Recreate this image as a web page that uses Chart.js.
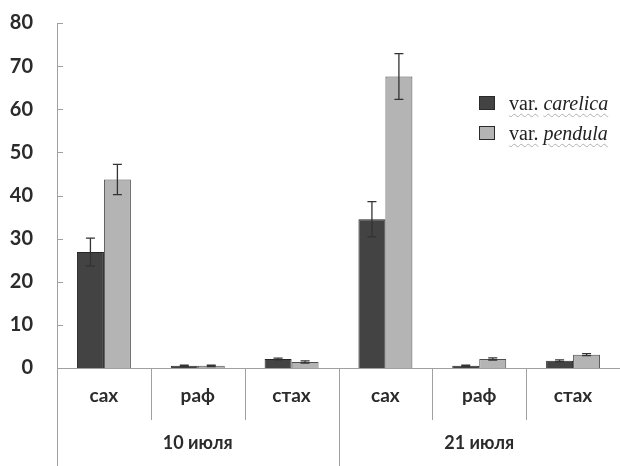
<!DOCTYPE html>
<html lang="ru">
<head>
  <meta charset="UTF-8">
  <title>Сахара по датам</title>
  <script src="https://cdn.jsdelivr.net/npm/chart.js"></script>
  <style>
    body {
      margin: 0;
      padding: 0;
      background: #ffffff;
    }
    .wrap {
      position: relative;
      width: 620px;
      height: 466px;
    }
    .legend {
      position: absolute;
      left: 479px;
      top: 88px;
      font-family: 'Liberation Serif', 'DejaVu Serif', serif;
      font-size: 20px;
      color: #222;
    }
    .legend-row {
      display: flex;
      align-items: center;
      height: 30px;
    }
    .legend-box {
      width: 14px;
      height: 12px;
      border: 1px solid #2a2a2a;
      margin-right: 14px;
    }
    .legend-row span.w {
      text-decoration: underline wavy #b0b0b0 1px;
      text-underline-offset: 3px;
    }
  </style>
</head>
<body>
  <div class="wrap">
    <canvas id="chart" width="620" height="466"></canvas>
    <div class="legend" id="legend"></div>
  </div>
  <script>
    // подписи осей
    const categories = ["сах", "раф", "стах", "сах", "раф", "стах"];
    const dates = ["10 июля", "21 июля"];
    const yTicks = [0, 10, 20, 30, 40, 50, 60, 70, 80];

    // значения и ошибки
    const carelica = [26.9, 0.5, 2.1, 34.5, 0.5, 1.7];
    const carelicaErr = [3.2, 0.15, 0.2, 4.1, 0.15, 0.2];
    const pendula = [43.7, 0.5, 1.4, 67.6, 2.1, 3.1];
    const pendulaErr = [3.5, 0.15, 0.25, 5.3, 0.25, 0.25];

    const seriesNames = [["var. ", "carelica"], ["var. ", "pendula"]];
    const fills = ["#434343", "#b4b4b4"];
    const borders = ["#262626", "#4d4d4d"];

    // легенда в html, чтобы был курсив и волнистое подчёркивание
    document.getElementById("legend").innerHTML = seriesNames.map((n, i) => `
      <div class="legend-row">
        <div class="legend-box" style="background:${fills[i]}"></div>
        <span class="w">${n[0].trim()}</span>&nbsp;<span class="w"><i>${n[1]}</i></span>
      </div>`).join("");

    const axisColor = "#a0a0a0";
    const textColor = "#2b2b2b";

    const decorations = {
      id: "decorations",
      afterDatasetsDraw(chart) {
        const ctx = chart.ctx;
        const y = chart.scales.y;
        const errs = [carelicaErr, pendulaErr];
        const vals = [carelica, pendula];
        ctx.save();
        ctx.strokeStyle = "#333";
        ctx.lineWidth = 1.3;
        chart.data.datasets.forEach((ds, di) => {
          chart.getDatasetMeta(di).data.forEach((bar, i) => {
            const top = y.getPixelForValue(vals[di][i] + errs[di][i]);
            const bot = y.getPixelForValue(vals[di][i] - errs[di][i]);
            ctx.beginPath();
            ctx.moveTo(bar.x, top); ctx.lineTo(bar.x, bot);
            ctx.moveTo(bar.x - 4.5, top); ctx.lineTo(bar.x + 4.5, top);
            ctx.moveTo(bar.x - 4.5, bot); ctx.lineTo(bar.x + 4.5, bot);
            ctx.stroke();
          });
        });
        ctx.restore();
      },
      afterDraw(chart) {
        const ctx = chart.ctx;
        const xs = chart.scales.x;
        const y = chart.scales.y;
        const area = chart.chartArea;
        ctx.save();
        ctx.strokeStyle = axisColor;
        ctx.lineWidth = 1;
        // разделители категорий
        for (let i = 0; i <= categories.length; i++) {
          let px;
          if (i === 0) px = xs.left;
          else if (i === categories.length) px = xs.right - 0.5;
          else px = (xs.getPixelForValue(i - 1) + xs.getPixelForValue(i)) / 2;
          const long = i % 3 === 0;
          ctx.beginPath();
          ctx.moveTo(Math.round(px) + 0.5, area.bottom);
          ctx.lineTo(Math.round(px) + 0.5, long ? chart.height : area.bottom + 52);
          ctx.stroke();
        }
        // короткие засечки внутрь
        y.ticks.forEach(t => {
          const py = Math.round(y.getPixelForValue(t.value)) + 0.5;
          ctx.beginPath();
          ctx.moveTo(area.left, py);
          ctx.lineTo(area.left + 6, py);
          ctx.stroke();
        });
        ctx.restore();
      }
    };

    new Chart(document.getElementById("chart"), {
      type: "bar",
      data: {
        labels: categories,
        datasets: [
          {
            label: seriesNames[0].join(""),
            data: carelica,
            backgroundColor: fills[0],
            borderColor: borders[0],
            borderWidth: 1,
            barPercentage: 1,
            categoryPercentage: 0.575
          },
          {
            label: seriesNames[1].join(""),
            data: pendula,
            backgroundColor: fills[1],
            borderColor: borders[1],
            borderWidth: 1,
            barPercentage: 1,
            categoryPercentage: 0.575
          }
        ]
      },
      options: {
        responsive: false,
        animation: false,
        layout: { padding: { top: 23, right: 0, left: 0, bottom: 0 } },
        plugins: {
          legend: { display: false },
          tooltip: { enabled: false }
        },
        scales: {
          y: {
            min: 0,
            max: 80,
            afterBuildTicks: s => { s.ticks = yTicks.map(v => ({ value: v })); },
            // ticks.padding иначе добавляется к верхнему отступу
            afterFit: s => { s.width = 57; s.paddingTop = 0; s.paddingBottom = 0; },
            grid: { display: false, drawTicks: false },
            border: { display: true, color: axisColor, width: 1 },
            ticks: {
              padding: 24,
              color: textColor,
              font: { family: "Lato", weight: "bold", size: 20 }
            }
          },
          x: {
            type: "category",
            offset: true,
            weight: 0,
            afterFit: s => { s.height = 52; },
            grid: { display: false, drawTicks: false },
            border: { display: true, color: axisColor, width: 1 },
            ticks: {
              padding: 16,
              color: textColor,
              font: { family: "Lato", weight: "bold", size: 19 }
            }
          },
          x2: {
            type: "category",
            position: "bottom",
            labels: dates,
            offset: true,
            weight: 1,
            afterFit: s => { s.height = 46; },
            grid: { display: false, drawTicks: false },
            border: { display: false },
            ticks: {
              padding: 12,
              color: textColor,
              font: { family: "Lato", weight: "bold", size: 18 }
            }
          }
        }
      },
      plugins: [decorations]
    });
  </script>
</body>
</html>
